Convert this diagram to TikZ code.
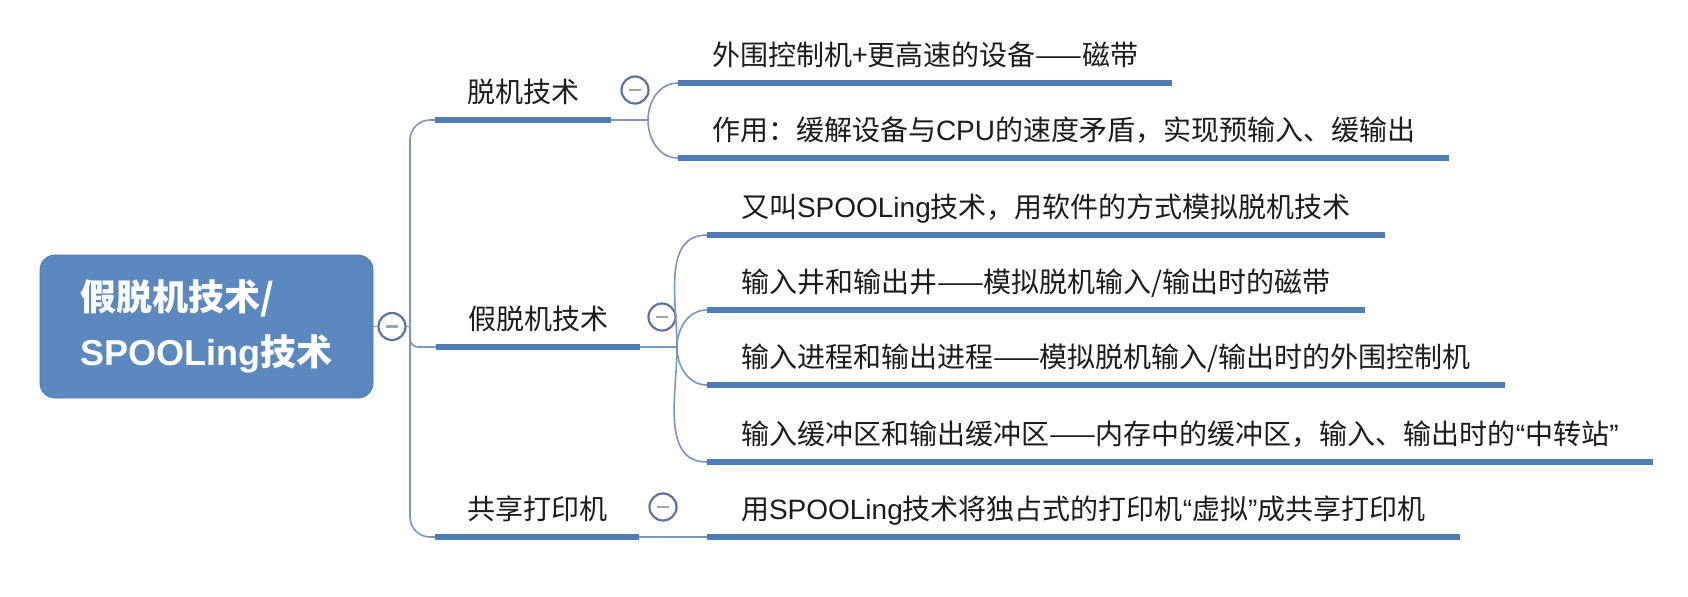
\documentclass[tikz,border=0pt]{standalone}
\usepackage{fontspec}
\setmainfont{Noto Sans CJK SC}
\newfontfamily\lsans{Liberation Sans}
\usetikzlibrary{positioning}
\definecolor{Ink}{HTML}{1C1C1C}
\definecolor{RootBlue}{HTML}{5C88C0}
\definecolor{RootEdge}{HTML}{4C78B0}
\definecolor{Bar}{HTML}{4F7CB5}
\definecolor{Wire}{HTML}{7A95BE}
\definecolor{FoldRing}{HTML}{5D729E}
\definecolor{FoldDash}{HTML}{9AA4B6}
\tikzset{
  rootbox/.style={draw=RootEdge,fill=RootBlue,rounded corners=7.5pt,minimum width=166.5pt,minimum height=71.5pt,align=left,font=\fontsize{18}{27.5}\selectfont\bfseries,text=white},
  topicbox/.style={anchor=south west,inner xsep=16pt,inner ysep=7pt,outer sep=0pt,text height=12pt,text depth=2pt,font=\fontsize{14}{17}\selectfont,text=Ink},
  leafbox/.style={topicbox,inner xsep=17pt},
  underbar/.style={draw=Bar,line width=2.8pt},
  wire/.style={draw=Wire,line width=0.8pt},
  foldmark/.style={circle,draw=FoldRing,fill=white,line width=1.1pt,minimum size=13.5pt,inner sep=0pt,path picture={\draw[FoldDash,line width=1.1pt] ([xshift=-3pt]path picture bounding box.center) -- ([xshift=3pt]path picture bounding box.center);}}
}

\begin{document}
\begin{tikzpicture}[x=0.5pt,y=-0.5pt]
  \fill[white] (0,0) rectangle (1688,596);
  \useasboundingbox (0,0) rectangle (1688,596);
  % central topic
  \node[rootbox] (root) at (206.5,326.5) {假脱机技术/\\{\lsans\bfseries SPOOLing}技术};
  \node[foldmark,right=2pt of root] (m0) {};
  \coordinate (hub) at (410,326.5);
  % main branches
  \node[topicbox] (b1) at (435,120) {脱机技术};
  \node[topicbox] (b2) at (436,347) {假脱机技术};
  \node[topicbox] (b3) at (435,537) {共享打印机};
  \node[foldmark] (m1) at (635,90) {};
  \node[foldmark] (m2) at (662,317) {};
  \node[foldmark] (m3) at (663,507) {};
  \coordinate (f1) at (648,120);
  \coordinate (f2) at (677,347);
  % leaves
  \node[leafbox] (c1) at (678,83) {外围控制机+更高速的设备——磁带};
  \node[leafbox] (c2) at (678,158) {作用：缓解设备与{\lsans CPU}的速度矛盾，实现预输入、缓输出};
  \node[leafbox] (d1) at (707,235) {又叫{\lsans SPOOLing}技术，用软件的方式模拟脱机技术};
  \node[leafbox] (d2) at (707,310) {输入井和输出井——模拟脱机输入/输出时的磁带};
  \node[leafbox] (d3) at (707,385) {输入进程和输出进程——模拟脱机输入/输出时的外围控制机};
  \node[leafbox] (d4) at (707,462) {输入缓冲区和输出缓冲区——内存中的缓冲区，输入、输出时的{\lsans “}中转站{\lsans ”}};
  \node[leafbox] (e1) at (707,537) {用{\lsans SPOOLing}技术将独占式的打印机{\lsans “}虚拟{\lsans ”}成共享打印机};
  % connectors
  \draw[wire] (root) -- (m0);
  \draw[wire] (m0) -- (hub);
  \draw[wire,rounded corners=10pt] (hub) |- (b1.south west);
  \draw[wire,rounded corners=4pt] (hub) |- (b2.south west);
  \draw[wire,rounded corners=10pt] (hub) |- (b3.south west);
  \draw[wire] (b1.south east) -- (f1);
  \draw[wire] (f1) to[out=90,in=180] (c1.south west);
  \draw[wire] (f1) to[out=-90,in=180] (c2.south west);
  \draw[wire] (b2.south east) -- (f2);
  \draw[wire] (f2) to[out=90,in=180] (d1.south west);
  \draw[wire] (f2) to[out=90,in=180] (d2.south west);
  \draw[wire] (f2) to[out=-90,in=180] (d3.south west);
  \draw[wire] (f2) to[out=-90,in=180] (d4.south west);
  \draw[wire] (b3.south east) -- (e1.south west);
  % underlines
  \draw[underbar] (b1.south west) -- (b1.south east);
  \draw[underbar] (b2.south west) -- (b2.south east);
  \draw[underbar] (b3.south west) -- (b3.south east);
  \draw[underbar] (c1.south west) -- (c1.south east);
  \draw[underbar] (c2.south west) -- (c2.south east);
  \draw[underbar] (d1.south west) -- (d1.south east);
  \draw[underbar] (d2.south west) -- (d2.south east);
  \draw[underbar] (d3.south west) -- (d3.south east);
  \draw[underbar] (d4.south west) -- (d4.south east);
  \draw[underbar] (e1.south west) -- (e1.south east);
\end{tikzpicture}
\end{document}
